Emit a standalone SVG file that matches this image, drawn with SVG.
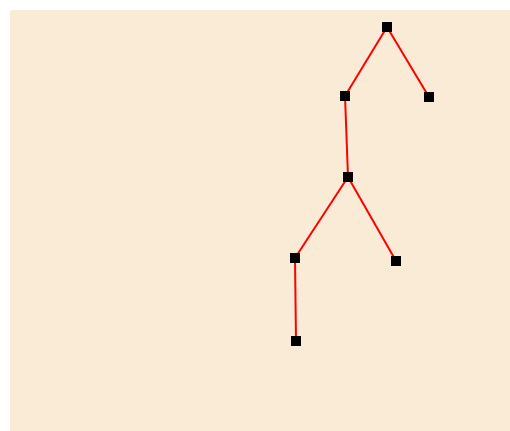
<svg xmlns="http://www.w3.org/2000/svg" width="510" height="431" viewBox="0 0 510 431">
<style>
.e{stroke:#ff0000;stroke-width:2;fill:none}
.n{fill:#000}
</style>
<rect x="10" y="10" width="500" height="421" fill="#faebd7"/>
<g id="edges">
<line class="e" x1="387" y1="27" x2="345" y2="96"/>
<line class="e" x1="387" y1="27" x2="429" y2="97"/>
<line class="e" x1="345" y1="96" x2="348" y2="177"/>
<line class="e" x1="348" y1="177" x2="295" y2="258"/>
<line class="e" x1="348" y1="177" x2="396" y2="261"/>
<line class="e" x1="295" y1="258" x2="296" y2="341"/>
</g>
<g id="n1"><rect class="n" x="382" y="22" width="10" height="10"/></g>
<g id="n2"><rect class="n" x="340" y="91" width="10" height="10"/></g>
<g id="n3"><rect class="n" x="424" y="92" width="10" height="10"/></g>
<g id="n4"><rect class="n" x="343" y="172" width="10" height="10"/></g>
<g id="n5"><rect class="n" x="290" y="253" width="10" height="10"/></g>
<g id="n6"><rect class="n" x="391" y="256" width="10" height="10"/></g>
<g id="n7"><rect class="n" x="291" y="336" width="10" height="10"/></g>
</svg>
